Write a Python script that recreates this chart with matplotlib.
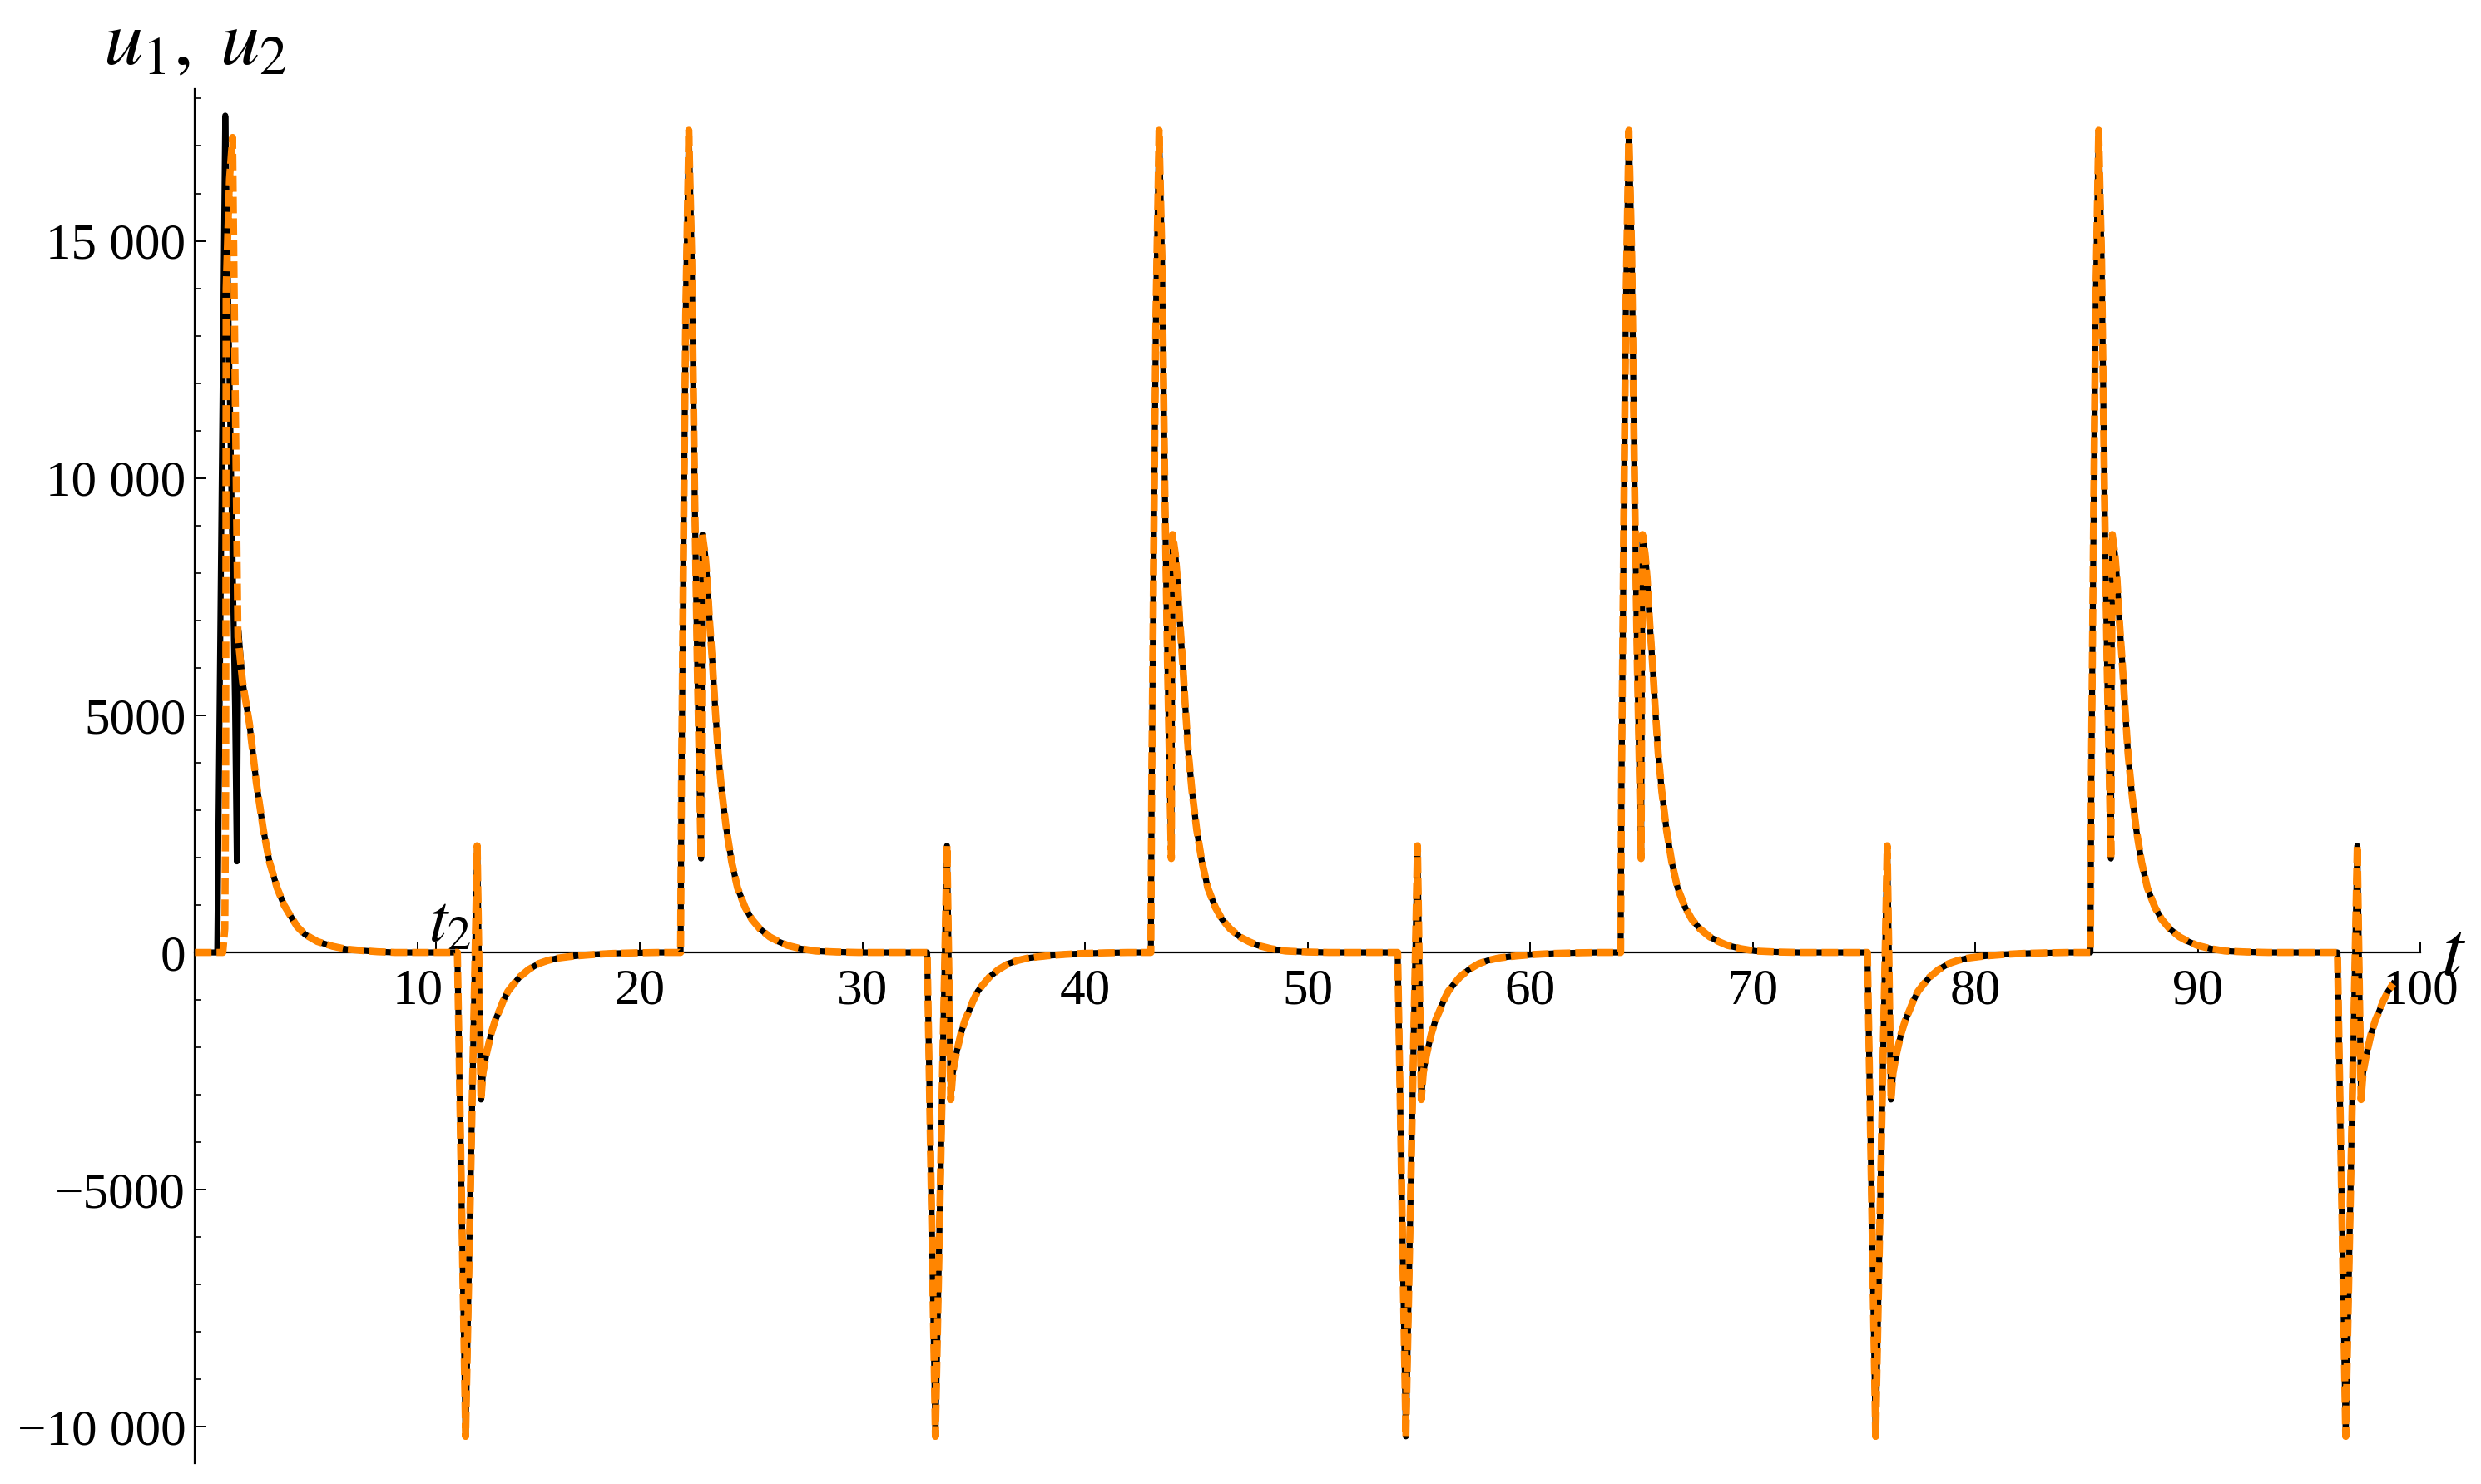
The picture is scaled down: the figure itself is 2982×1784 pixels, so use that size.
import numpy as np
import matplotlib
matplotlib.use("Agg")
import matplotlib.pyplot as plt
from matplotlib.ticker import MultipleLocator

plt.rcParams['font.family'] = ['Liberation Serif', 'DejaVu Serif']
plt.rcParams['mathtext.fontset'] = 'stix'

# first event (u1 and u2 differ here)
first_t_u1 = [0, 1.00, 1.12, 1.24, 1.36, 1.50, 1.65, 1.80, 1.88, 1.95, 2.14, 2.45, 2.75, 3.07, 3.35, 3.69,
              4.0, 4.32, 4.6, 4.94, 5.5, 6.19, 6.8, 7.5, 8.2, 9.0]
first_u1 = [0, 0, 5800, 11800, 17640, 13500, 9300, 5200, 1920, 6800, 5700, 4810, 3600, 2590, 1900, 1360,
            1000, 750, 540, 380, 230, 130, 70, 40, 15, 0]
first_t_u2 = [0, 1.25, 1.34, 1.38, 1.40, 1.55, 1.69, 1.81, 1.93, 2.14, 2.45, 2.75, 3.07, 3.35, 3.69,
              4.0, 4.32, 4.6, 4.94, 5.5, 6.19, 6.8, 7.5, 8.2, 9.0]
first_u2 = [0, 0, 500, 3500, 14000, 16300, 17180, 11700, 6650, 5700, 4810, 3600, 2590, 1900, 1360,
            1000, 750, 540, 380, 230, 130, 70, 40, 15, 0]

pos_onsets = [21.82, 42.95, 64.06, 85.17]
pos_dt = [0, 0.04, 0.13, 0.23, 0.37, 0.50, 0.63, 0.75, 0.88, 0.92, 0.98, 1.10, 1.19, 1.30, 1.44, 1.56,
          1.69, 1.85, 2.06, 2.30, 2.56, 2.90, 3.20, 3.56, 4.00, 4.40, 4.80, 5.40, 6.05, 7.0, 8.0]
pos_val = [0, 3580, 8500, 13430, 17330, 14660, 9730, 6040, 2960, 1980, 8810, 8400, 7890, 7000, 6040, 5100,
           4190, 3400, 2590, 1900, 1360, 950, 700, 500, 330, 230, 150, 80, 30, 10, 0]

neg_onsets = [11.79, 32.90, 54.04, 75.15, 96.27]
neg_dt = [0, 0.37, 0.89, 1.06, 1.15, 1.30, 1.52, 1.70, 1.89, 2.05, 2.27, 2.50, 2.79, 3.20, 3.65,
          4.05, 4.50, 5.00, 5.40, 6.20, 7.0, 8.0, 9.0]
neg_val = [0, -10200, 2250, -3100, -2540, -2150, -1700, -1430, -1220, -1030, -820, -680, -520, -360, -235,
           -170, -120, -90, -70, -40, -20, -8, 0]

t_end, u_end = 98.77, -660

yticks = [-10000, -5000, 0, 5000, 10000, 15000]
ytick_labels = ['\u221210 000', '\u22125000', '0', '5000', '10 000', '15 000']
xticks = [10, 10.83, 20, 30, 40, 50, 60, 70, 80, 90, 100]
xtick_labels = ['10', '', '20', '30', '40', '50', '60', '70', '80', '90', '100']


def build(t0, v0):
    ts, vs = list(t0), list(v0)
    events = sorted([(o, pos_dt, pos_val) for o in pos_onsets] +
                    [(o, neg_dt, neg_val) for o in neg_onsets])
    for onset, dt, val in events:
        for d, v in zip(dt, val):
            if onset + d < t_end:
                ts.append(onset + d)
                vs.append(v)
    ts.append(t_end)
    vs.append(u_end)
    return np.array(ts), np.array(vs)


t1, u1 = build(first_t_u1, first_u1)
t2, u2 = build(first_t_u2, first_u2)

fig = plt.figure(figsize=(14.91, 8.92), dpi=200)
ax = fig.add_axes([0.0786, 0.014, 0.897, 0.926])

ax.plot(t1, u1, color='black', lw=2.6, zorder=3)
ax.plot(t2, u2, color='#ff8500', lw=3.1, dashes=(2.3, 0.7), zorder=4)

ax.set_xlim(0, 100)
ax.set_ylim(-10765, 18200)

for s in ['top', 'right']:
    ax.spines[s].set_visible(False)
ax.spines['bottom'].set_position(('data', 0))
ax.spines['bottom'].set_linewidth(0.8)
ax.spines['left'].set_linewidth(0.8)

ax.set_xticks(xticks)
ax.set_xticklabels(xtick_labels)
ax.set_yticks(yticks)
ax.set_yticklabels(ytick_labels)
ax.yaxis.set_minor_locator(MultipleLocator(1000))
ax.tick_params(axis='x', direction='in', length=4.3, width=0.7, pad=7, labelsize=22)
ax.tick_params(axis='y', which='major', direction='in', length=5, width=0.7, pad=4, labelsize=22)
ax.tick_params(axis='y', which='minor', direction='in', length=2.9, width=0.6)

ax.text(11.45, 590, '$t_2$', fontsize=29, ha='center', va='center')
ax.text(101.5, -80, '$t$', fontsize=34, ha='center', va='center', clip_on=False)
fig.text(235 / 2982, 1 - 55 / 1784, r'$u_1,\; u_2$', fontsize=34, ha='center', va='center')

fig.savefig('out.png', dpi=200)
